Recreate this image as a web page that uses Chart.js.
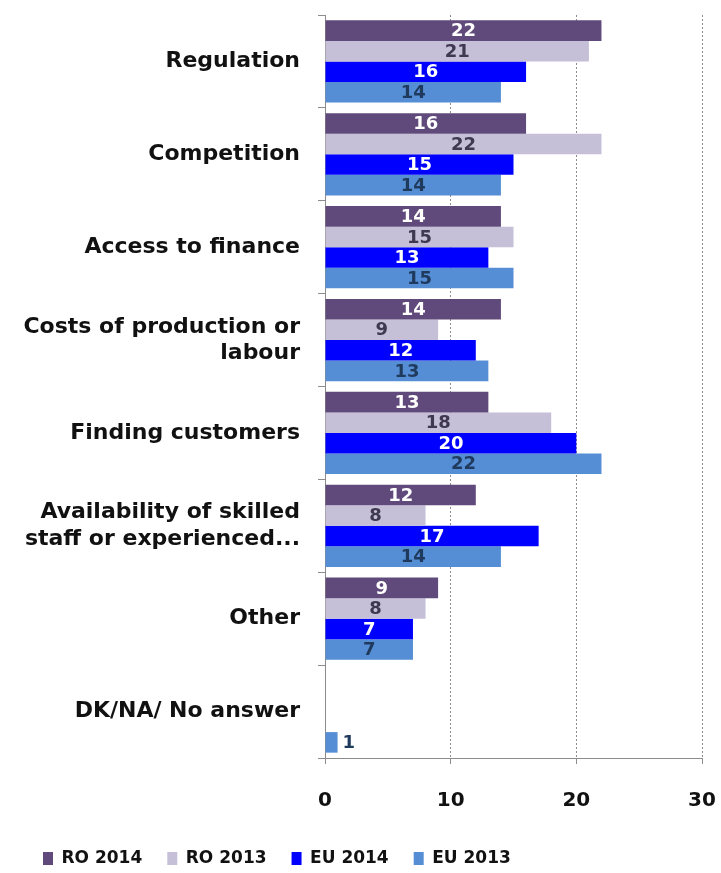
<!DOCTYPE html>
<html>
<head>
<meta charset="utf-8">
<script src="https://cdn.jsdelivr.net/npm/chart.js@4"></script>
<style>
  html, body { margin: 0; padding: 0; background: #fff; }
  #wrap { width: 721px; height: 873px; position: relative; }
</style>
</head>
<body>
<div id="wrap"><canvas id="chart"></canvas></div>
<script>
// obstacles and the share of answers per group
const categories = [
    'Regulation',
    'Competition',
    'Access to finance',
    ['Costs of production or', 'labour'],
    'Finding customers',
    ['Availability of skilled', 'staff or experienced...'],
    'Other',
    'DK/NA/ No answer'
];
const ro2014 = [22, 16, 14, 14, 13, 12, 9, null];
const ro2013 = [21, 22, 15, 9, 18, 8, 8, null];
const eu2014 = [16, 15, 13, 12, 20, 17, 7, null];
const eu2013 = [14, 14, 15, 13, 22, 14, 7, 1];
const seriesNames = ['RO 2014', 'RO 2013', 'EU 2014', 'EU 2013'];
const xTicks = [0, 10, 20, 30];

const barColors = ['#604a7b', '#c6bfd8', '#0000ff', '#558ed5'];
const valueColors = ['#ffffff', '#3f3850', '#ffffff', '#1f3a5c'];
const fontFamily = '"DejaVu Sans", sans-serif';

// writes each bar's number inside it, or just past the end when the bar is too short
const valueLabels = {
    id: 'valueLabels',
    afterDatasetsDraw(chart) {
        const ctx = chart.ctx;
        ctx.save();
        ctx.font = 'bold 18px ' + fontFamily;
        ctx.textBaseline = 'middle';
        chart.data.datasets.forEach((ds, i) => {
            const meta = chart.getDatasetMeta(i);
            meta.data.forEach((bar, j) => {
                const v = ds.data[j];
                if (v === null || v === undefined) return;
                const w = bar.x - bar.base;
                ctx.fillStyle = valueColors[i];
                if (w < 24) {
                    ctx.textAlign = 'left';
                    ctx.fillText(String(v), bar.x + 5, bar.y + 1);
                } else {
                    ctx.textAlign = 'center';
                    ctx.fillText(String(v), (bar.x + bar.base) / 2, bar.y + 1);
                }
            });
        });
        ctx.restore();
    }
};

const seriesData = [ro2014, ro2013, eu2014, eu2013];

new Chart(document.getElementById('chart'), {
    type: 'bar',
    data: {
        labels: categories,
        datasets: seriesNames.map((name, i) => ({
            label: name,
            data: seriesData[i],
            backgroundColor: barColors[i],
            borderWidth: 0,
            barPercentage: 1.0,
            categoryPercentage: 0.885
        }))
    },
    options: {
        indexAxis: 'y',
        responsive: true,
        maintainAspectRatio: false,
        animation: false,
        layout: { padding: { top: 15, right: 19, bottom: -4, left: 18 } },
        plugins: {
            legend: {
                position: 'bottom',
                align: 'start',
                labels: {
                    color: '#111',
                    font: { family: fontFamily, size: 17, weight: 'bold' },
                    boxWidth: 10,
                    boxHeight: 13,
                    padding: 25
                }
            },
            tooltip: { enabled: false }
        },
        scales: {
            x: {
                min: 0,
                max: 30,
                afterBuildTicks: scale => {
                    scale.ticks = xTicks.map(v => ({ value: v }));
                },
                afterFit: scale => {
                    scale.height = 67;
                    scale.paddingLeft = 0;
                    scale.paddingRight = 0;
                },
                border: { display: true, color: '#8c8c8c', width: 1, dash: [2, 2] },
                grid: {
                    color: '#8c8c8c',
                    tickBorderDash: [],
                    tickColor: '#8c8c8c',
                    tickLength: 6,
                    drawTicks: true
                },
                ticks: {
                    color: '#111',
                    padding: 25,
                    font: { family: fontFamily, size: 20, weight: 'bold' }
                }
            },
            y: {
                afterFit: scale => {
                    scale.width = 307;
                    scale.paddingTop = 0;
                    scale.paddingBottom = 0;
                },
                border: { display: true, color: '#8c8c8c', width: 1 },
                grid: {
                    offset: true,
                    drawOnChartArea: false,
                    drawTicks: true,
                    tickLength: 7,
                    tickColor: '#8c8c8c'
                },
                ticks: {
                    color: '#111',
                    padding: 18,
                    font: { family: fontFamily, size: 22, weight: 'bold', lineHeight: 1.2 }
                }
            }
        }
    },
    plugins: [valueLabels]
});
</script>
</body>
</html>
